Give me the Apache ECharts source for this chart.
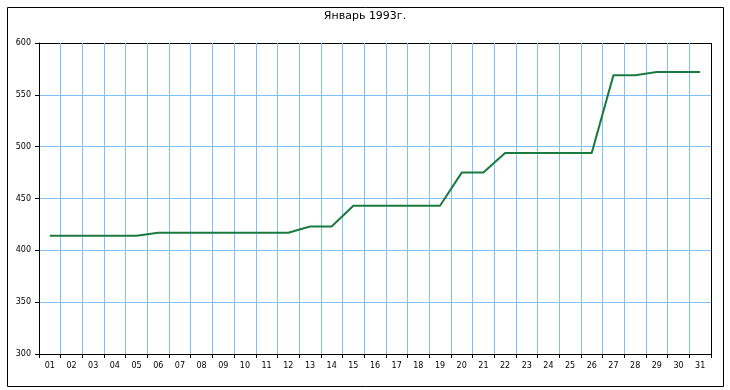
<!DOCTYPE html>
<html><head><meta charset="utf-8">
<script src="https://cdn.jsdelivr.net/npm/echarts@6/dist/echarts.min.js"></script>
<style>html,body{margin:0;padding:0;background:#fff}#c{width:730px;height:390px}</style>
</head><body><div id="c"></div>
<script>
const titleText = 'Январь 1993г.';
const days = ['01','02','03','04','05','06','07','08','09','10','11','12','13','14','15','16','17','18','19','20','21','22','23','24','25','26','27','28','29','30','31'];
const values = [414,414,414,414,414,417,417,417,417,417,417,417,423,423,443,443,443,443,443,475,475,494,494,494,494,494,569,569,572,572,572];
const yMin = 300, yMax = 600, yStep = 50;

const blue = '#80c0ff';
const xSplitColors = days.map(() => blue).concat(['#000']);
const ySplitColors = [];
for (let v = yMin; v <= yMax; v += yStep) ySplitColors.push(v === yMax ? '#000' : blue);

const chart = echarts.init(document.getElementById('c'), null, {renderer: 'canvas'});
chart.setOption({
  animation: false,
  backgroundColor: '#fff',
  title: {
    text: titleText, left: 'center', top: 6,
    textStyle: {fontFamily: 'DejaVu Sans', fontSize: 11, fontWeight: 'normal', color: '#000'}
  },
  graphic: [{
    type: 'rect', left: 5, top: 5, z: 100, silent: true,
    shape: {width: 716, height: 379},
    style: {fill: 'none', stroke: '#000', lineWidth: 1}
  }],
  grid: {left: 39, right: 19, top: 43, bottom: 36, containLabel: false},
  xAxis: {
    type: 'category', data: days, boundaryGap: true,
    axisLine: {lineStyle: {color: '#000', width: 1}},
    axisTick: {show: true, interval: 0, length: 4, lineStyle: {color: '#000'}},
    axisLabel: {interval: 0, fontFamily: 'DejaVu Sans', fontSize: 8, color: '#000', margin: 8},
    splitLine: {show: true, interval: 0, lineStyle: {color: xSplitColors, width: 1}}
  },
  yAxis: {
    type: 'value', min: yMin, max: yMax, interval: yStep,
    axisLine: {show: true, lineStyle: {color: '#000', width: 1}},
    axisTick: {show: true, length: 4, lineStyle: {color: '#000'}},
    axisLabel: {fontFamily: 'DejaVu Sans', fontSize: 8, color: '#000', margin: 8},
    splitLine: {show: true, lineStyle: {color: ySplitColors, width: 1}}
  },
  series: [{
    type: 'line', data: values, symbol: 'none', smooth: false,
    lineStyle: {color: '#1b7a3e', width: 2},
    itemStyle: {color: '#1b7a3e'}
  }]
});
</script></body></html>
